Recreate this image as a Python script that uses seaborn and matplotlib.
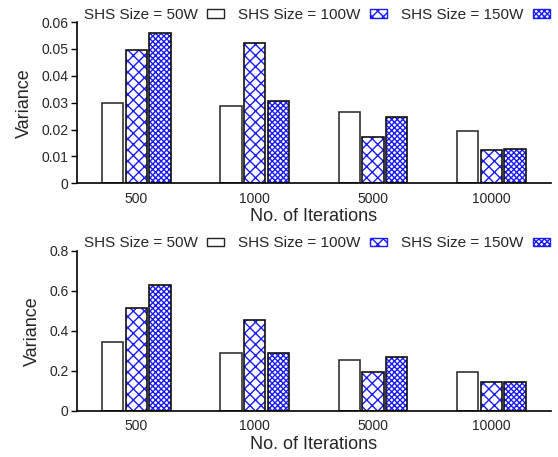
import numpy as np
import pandas as pd
import matplotlib
matplotlib.use("Agg")
import matplotlib.pyplot as plt
from matplotlib.patches import Patch, Rectangle
from matplotlib.ticker import FuncFormatter
import seaborn as sns

# data
iterations = ["500", "1000", "5000", "10000"]
sizes = ["SHS Size = 50W", "SHS Size = 100W", "SHS Size = 150W"]

top_50w = [0.0298, 0.0287, 0.0264, 0.0196]
top_100w = [0.0495, 0.0522, 0.0171, 0.0124]
top_150w = [0.0558, 0.0308, 0.0246, 0.0128]

bot_50w = [0.346, 0.287, 0.254, 0.196]
bot_100w = [0.513, 0.455, 0.193, 0.143]
bot_150w = [0.627, 0.287, 0.267, 0.143]

hatches = ["", "xxx", "xxxxxx"]
hatch_cols = ["#333333", "#1a1aff", "#1a1aff"]

sns.set_theme(style="ticks")
plt.rcParams["font.family"] = ["Liberation Sans", "DejaVu Sans"]
plt.rcParams["hatch.linewidth"] = 1.0


def make_df(v50, v100, v150):
    rows = []
    for s, vals in zip(sizes, [v50, v100, v150]):
        for it, v in zip(iterations, vals):
            rows.append({"Iterations": it, "Size": s, "Variance": v})
    return pd.DataFrame(rows)


def draw(ax, df, ymax, step):
    sns.barplot(data=df, x="Iterations", y="Variance", hue="Size",
                order=iterations, hue_order=sizes,
                palette=["white"] * 3, width=0.6, gap=0.1,
                errorbar=None, legend=False, ax=ax)
    for cont, h, hc in zip(ax.containers, hatches, hatch_cols):
        for p in cont:
            p.set_facecolor("white")
            p.set_hatch(h)
            p.set_edgecolor(hc)
            p.set_linewidth(0)
            # black outline on top of the blue hatch
            ax.add_patch(Rectangle(p.get_xy(), p.get_width(), p.get_height(),
                                   fill=False, edgecolor="#111111" if h else "#333333",
                                   linewidth=1.2, zorder=p.get_zorder() + 0.1))
    ax.set_xlim(-0.5, 3.5)
    ax.set_ylim(0, ymax)
    ax.set_yticks(np.arange(0, ymax + step / 2, step))
    ax.yaxis.set_major_formatter(FuncFormatter(lambda v, pos: "%g" % round(v, 4)))
    ax.tick_params(axis="y", length=4, width=1, labelsize=10, pad=2, color="black")
    ax.tick_params(axis="x", length=0, labelsize=10, pad=6)
    for s in ["left", "bottom"]:
        ax.spines[s].set_linewidth(1.2)
        ax.spines[s].set_color("black")
    sns.despine(ax=ax)
    ax.set_xlabel("No. of Iterations", fontsize=13, labelpad=2)
    ax.set_ylabel("Variance", fontsize=13, labelpad=6)

    handles = [Patch(facecolor="white", edgecolor=c, hatch=h, linewidth=1)
               for h, c in zip(hatches, ["#222222", "#1a1aff", "#1a1aff"])]
    ax.legend(handles, sizes, ncol=3, loc="center left",
              bbox_to_anchor=(0.015, 1.045), frameon=False, markerfirst=False,
              handlelength=1.1, handleheight=0.45, handletextpad=0.6,
              columnspacing=0.95, borderpad=0, borderaxespad=0, fontsize=11)


fig = plt.figure(figsize=(5.58, 4.57), dpi=100)
ax1 = fig.add_axes([0.138, 0.599, 0.8486, 0.3526])
ax2 = fig.add_axes([0.138, 0.1007, 0.8486, 0.3509])

draw(ax1, make_df(top_50w, top_100w, top_150w), 0.06, 0.01)
draw(ax2, make_df(bot_50w, bot_100w, bot_150w), 0.8, 0.2)

fig.savefig("out.png", dpi=100)
